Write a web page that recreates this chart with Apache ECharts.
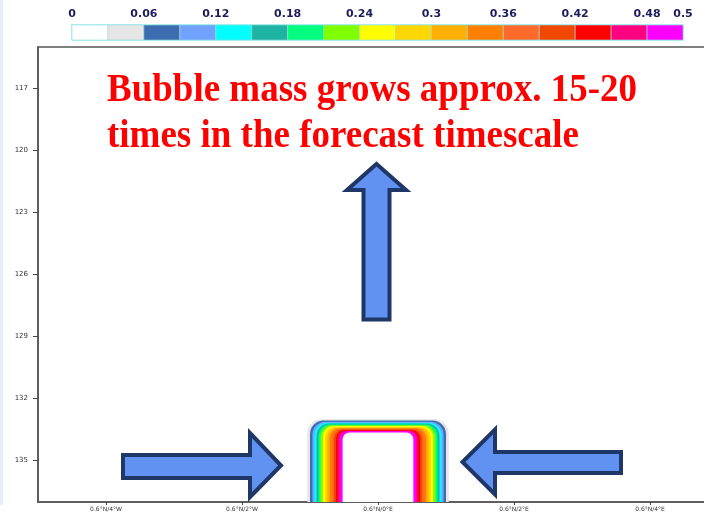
<!DOCTYPE html>
<html>
<head>
<meta charset="utf-8">
<script src="https://cdn.jsdelivr.net/npm/echarts@6/dist/echarts.min.js"></script>
<style>
html, body { margin: 0; padding: 0; background: #fff; }
#chart { width: 704px; height: 515px; }
</style>
</head>
<body>
<div id="chart"></div>
<script>
'use strict';

// colour scale (17 cells, labels on every other boundary)
const legendBreaks = [0, 0.03, 0.06, 0.09, 0.12, 0.15, 0.18, 0.21, 0.24, 0.27, 0.3, 0.33, 0.36, 0.39, 0.42, 0.45, 0.48, 0.5];
const legendColors = ['#ffffff', '#e6e6e6', '#3c6db0', '#72a2ff', '#00ffff', '#1eb4a4', '#00ff80', '#80ff00',
    '#ffff00', '#ffd700', '#ffb000', '#ff8000', '#ff6a2a', '#f04800', '#ff0000', '#ff0080', '#ff00ff'];
const legendLabelIdx = [0, 2, 4, 6, 8, 10, 12, 14, 16, 17];

// axes
const yTicks = [117, 120, 123, 126, 129, 132, 135];
const xTicks = [-4, -2, 0, 2, 4];
const xTickLabels = ['0.6°N/4°W', '0.6°N/2°W', '0.6°N/0°E', '0.6°N/2°E', '0.6°N/4°E'];
const yMin = 115, yMax = 137;

// bubble: nested bands, outermost first (half width in deg, top level, value)
const bubbleHalfWidth = [1.04, 1.0, 0.965, 0.935, 0.905, 0.875, 0.845, 0.81, 0.78, 0.745, 0.71, 0.68, 0.65, 0.62, 0.59, 0.56, 0.52];
const bubbleTop = [133.0, 133.06, 133.12, 133.17, 133.21, 133.25, 133.29, 133.33, 133.37, 133.41, 133.44, 133.47, 133.5, 133.53, 133.56, 133.58, 133.64];
const bubbleValue = [0.045, 0.075, 0.105, 0.135, 0.165, 0.195, 0.225, 0.255, 0.285, 0.315, 0.345, 0.375, 0.405, 0.435, 0.465, 0.49, 0.55];

function colorFor(v) {
    if (v >= legendBreaks[legendBreaks.length - 1]) return '#ffffff';
    for (let i = 0; i < legendColors.length; i++) {
        if (v >= legendBreaks[i] && v < legendBreaks[i + 1]) return legendColors[i];
    }
    return '#ffffff';
}

const legendData = legendColors.map((c, i) => [i, i + 1]);
const bubbleData = bubbleHalfWidth.map((hw, i) => [hw, bubbleTop[i], bubbleValue[i]]);

const arrowFill = '#6192f2';
const arrowStroke = '#1f3767';

let myChart = echarts.init(document.getElementById('chart'), null, {renderer: 'canvas'});

myChart.setOption({
    animation: false,
    backgroundColor: '#ffffff',
    grid: [
        {left: 38, top: 47, width: 680, bottom: 13, outerBoundsMode: 'none', containLabel: false,
            show: true, borderColor: '#555', borderWidth: 1.5, backgroundColor: '#fff'},
        {left: 72, top: 25, width: 611, height: 15, outerBoundsMode: 'none', containLabel: false,
            show: true, borderColor: '#8ef5f5', borderWidth: 1.5}
    ],
    xAxis: [
        {
            type: 'value', gridIndex: 0, min: -5, max: 5,
            splitLine: {show: false},
            axisLine: {show: true, onZero: false, lineStyle: {color: '#555', width: 1.5}},
            axisTick: {show: true, customValues: xTicks, length: 3, lineStyle: {color: '#444'}},
            axisLabel: {
                customValues: xTicks, fontSize: 6, color: '#333', margin: 4, fontFamily: 'DejaVu Sans',
                formatter: function (v) { return xTickLabels[xTicks.indexOf(v)]; }
            }
        },
        {
            type: 'value', gridIndex: 1, min: 0, max: 17, position: 'top',
            splitLine: {show: false}, axisLine: {show: false}, axisTick: {show: false},
            axisLabel: {
                customValues: legendLabelIdx, showMinLabel: true, showMaxLabel: true,
                fontSize: 11, fontWeight: 'bold', color: '#1b1b5e', margin: 5, fontFamily: 'DejaVu Sans',
                formatter: function (v) { return String(legendBreaks[v]); }
            }
        }
    ],
    yAxis: [
        {
            type: 'value', gridIndex: 0, min: yMin, max: yMax, inverse: true,
            splitLine: {show: false},
            axisLine: {show: true, onZero: false, lineStyle: {color: '#555', width: 1.5}},
            axisTick: {show: true, customValues: yTicks, length: 5, lineStyle: {color: '#444'}},
            axisLabel: {customValues: yTicks, fontSize: 7, color: '#333', margin: 10, fontFamily: 'DejaVu Sans'}
        },
        {type: 'value', gridIndex: 1, min: 0, max: 1, show: false}
    ],
    series: [
        {
            name: 'scale',
            type: 'custom',
            xAxisIndex: 1,
            yAxisIndex: 1,
            data: legendData,
            renderItem: function (params, api) {
                let p1 = api.coord([api.value(0), 1]);
                let p2 = api.coord([api.value(1), 0]);
                return {
                    type: 'rect',
                    shape: {x: p1[0], y: p1[1], width: p2[0] - p1[0], height: p2[1] - p1[1]},
                    style: {fill: legendColors[params.dataIndex], stroke: '#9fd9d9', lineWidth: 0.6}
                };
            }
        },
        {
            name: 'bubble',
            type: 'custom',
            xAxisIndex: 0,
            yAxisIndex: 0,
            clip: true,
            data: bubbleData,
            renderItem: function (params, api) {
                let hw = api.value(0);
                let p1 = api.coord([-hw, api.value(1)]);
                let p2 = api.coord([hw, yMax]);
                let w = p2[0] - p1[0];
                let h = p2[1] - p1[1];
                let r = Math.min(w * 0.1, h);
                return {
                    type: 'rect',
                    shape: {x: p1[0], y: p1[1], width: w, height: h, r: [r, r, 0, 0]},
                    style: {fill: colorFor(api.value(2))}
                };
            }
        }
    ],
    graphic: [
        {type: 'rect', left: 0, top: 0, shape: {width: 3, height: 505}, style: {fill: '#e6ecfa'}, silent: true},
        {
            type: 'text', x: 107, y: 68, scaleY: 1.08, originX: 0, originY: 0, z: 100,
            style: {
                text: 'Bubble mass grows approx. 15-20\ntimes in the forecast timescale',
                fill: '#ff0000',
                font: 'bold 37px "Liberation Serif"',
                lineHeight: 42.2
            }
        },
        {
            type: 'polygon', z: 100,
            shape: {points: [[376.5, 164], [406, 190], [389.5, 190], [389.5, 319.5], [363.5, 319.5], [363.5, 190], [347, 190]]},
            style: {fill: arrowFill, stroke: arrowStroke, lineWidth: 4, lineJoin: 'miter'}
        },
        {
            type: 'polygon', z: 100,
            shape: {points: [[123, 455], [250, 455], [250, 433], [281, 465.5], [250, 497], [250, 478], [123, 478]]},
            style: {fill: arrowFill, stroke: arrowStroke, lineWidth: 4, lineJoin: 'miter'}
        },
        {
            type: 'polygon', z: 100,
            shape: {points: [[621, 452], [495, 452], [495, 429.5], [462.5, 462], [495, 494.5], [495, 473], [621, 473]]},
            style: {fill: arrowFill, stroke: arrowStroke, lineWidth: 4, lineJoin: 'miter'}
        }
    ]
});
</script>
</body>
</html>
